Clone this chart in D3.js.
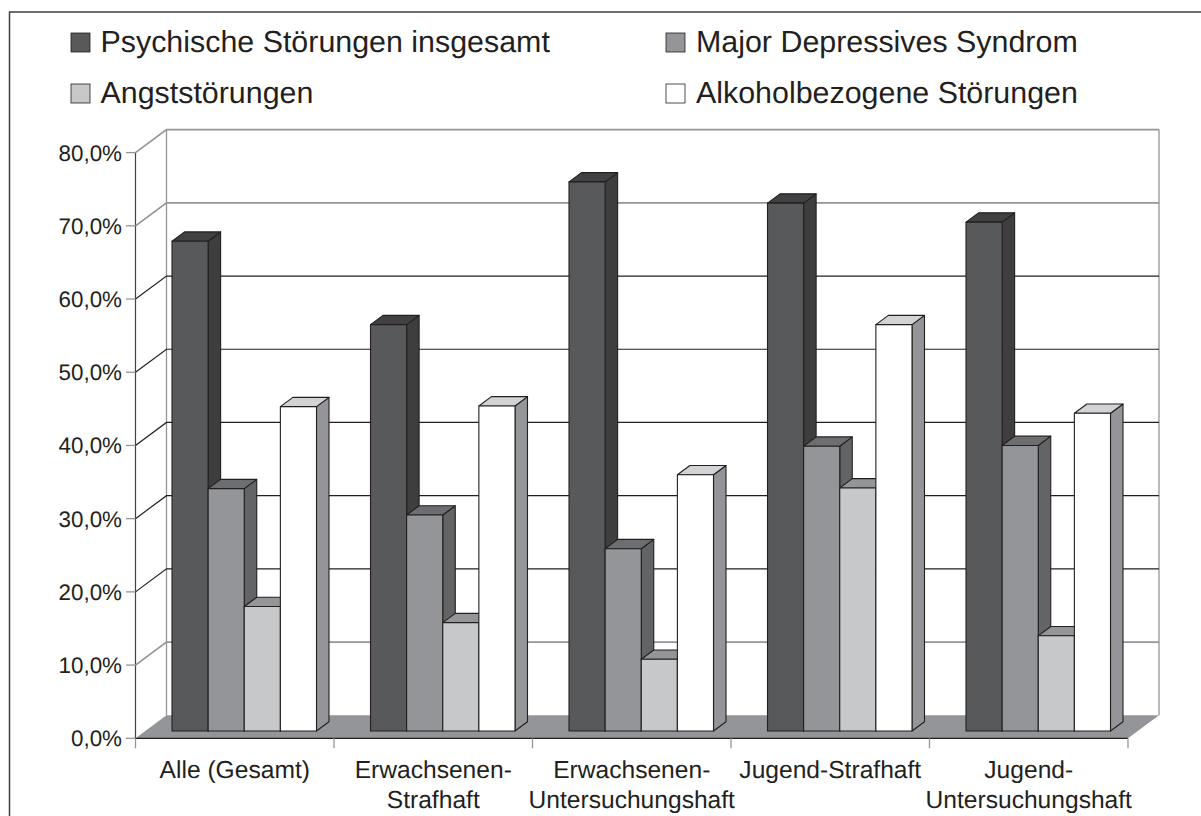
<!DOCTYPE html>
<html><head><meta charset="utf-8">
<script src="https://cdnjs.cloudflare.com/ajax/libs/d3/7.8.5/d3.min.js"></script>
<style>html,body{margin:0;padding:0;background:#fff}svg{display:block}text{font-family:"Liberation Sans",Arial,sans-serif;fill:#231f20;text-rendering:geometricPrecision}</style>
</head><body><svg id="c" width="1201" height="816"></svg>
<script>
const categories=[["Alle (Gesamt)"],["Erwachsenen-","Strafhaft"],["Erwachsenen-","Untersuchungshaft"],["Jugend-Strafhaft"],["Jugend-","Untersuchungshaft"]];
const seriesNames=["Psychische Störungen insgesamt","Major Depressives Syndrom","Angststörungen","Alkoholbezogene Störungen"];
const psychisch=[66.9,55.5,75.0,72.1,69.5];
const depressiv=[33.1,29.5,24.9,38.9,39.0];
const angst=[17.0,14.8,9.8,33.2,13.0];
const alkohol=[44.3,44.4,35.0,55.5,43.4];
const yTicks=[0,10,20,30,40,50,60,70,80];
const fronts=["#58595b","#939598","#c7c8ca","#ffffff"];
const sides=["#3e3e3f","#636466","#939598","#939598"];
const tops=["#414042","#6d6e71","#939598","#d1d3d4"];
const ink="#231f20",grey="#939598";
const series=[psychisch,depressiv,angst,alkohol];
const fmt=v=>v.toFixed(1).replace(".",",")+"%";

const svg=d3.select("#c");
const x0=135.5,x1=1128,y0=738.3,y80=152.6,dx=31,dy=-23;
const y=d3.scaleLinear().domain([0,80]).range([y0,y80]);
const xb=d3.scaleBand().domain(d3.range(5)).range([x0,x1]);
const xs=d3.scaleBand().domain(d3.range(4)).range([36.5,181]);
const zy=-7.3; // bar front sits inside the floor
const depthX=12.5,depthY=-9.3;

// frame
svg.append("path").attr("d","M9.5,816V12H1201").attr("fill","none").attr("stroke","#414042").attr("stroke-width",1.5);

// legend
const legX=[71,666],legY=[42.5,93.5];
seriesNames.forEach((n,i)=>{
  const lx=legX[i%2],ly=legY[i>>1];
  svg.append("rect").attr("x",lx).attr("y",ly-9.5).attr("width",19).attr("height",19).attr("fill",fronts[i]).attr("stroke",ink).attr("stroke-width",.8);
  svg.append("text").attr("x",lx+(i%2?30:29.5)).attr("y",ly+9.8).attr("font-size",30.4).text(n);
});

// floor
svg.append("path").attr("d",`M${x0},${y0}L${x0+dx},${y0+dy}H${x1+dx}L${x1},${y0}Z`).attr("fill",grey);
// walls
svg.append("path").attr("d",`M${x0},${y(0)}V${y(80)}`).attr("stroke","#414042").attr("fill","none").attr("stroke-width",1.2);
svg.append("path").attr("d",`M${x0+dx},${y(0)+dy}V${y(80)+dy}`).attr("stroke",grey).attr("fill","none").attr("stroke-width",1.3);
svg.append("path").attr("d",`M${x1+dx},${y(0)+dy}V${y(80)+dy}`).attr("stroke",grey).attr("fill","none").attr("stroke-width",1.3);
// grid
yTicks.slice(1).forEach(t=>{
  const soft=t===70||t===80||t===10;
  const d=`M${x0},${y(t)}L${x0+dx},${y(t)+dy}H${x1+dx}`;
  svg.append("path").attr("d",d).attr("fill","none").attr("stroke",soft?grey:ink).attr("stroke-width",soft?1.7:1.2);
});
// y axis ticks + labels
yTicks.forEach(t=>{
  svg.append("path").attr("d",`M${x0-9.5},${y(t)}H${x0}`).attr("stroke",grey).attr("stroke-width",1.3);
  svg.append("text").attr("x",122).attr("y",y(t)+8).attr("text-anchor","end").attr("font-size",22.4).text(fmt(t));
});
// x axis
svg.append("path").attr("d",`M${x0},${y0}H${x1}`).attr("stroke",ink).attr("stroke-width",1.2);
d3.range(6).forEach(i=>{
  const xt=x0+i*xb.step();
  svg.append("path").attr("d",`M${xt},${y0}V${y0+10}`).attr("stroke",grey).attr("stroke-width",1.3);
});
categories.forEach((c,i)=>{
  c.forEach((s,k)=>svg.append("text").attr("x",xb(i)+xb.bandwidth()/2).attr("y",778+k*30).attr("text-anchor","middle").attr("font-size",24.6).text(s));
});
// bars
const bw=xs.bandwidth();
categories.forEach((c,g)=>{
  series.forEach((vals,s)=>{
    const v=vals[g];
    const bx=xb(g)+xs(s),fy0=y(0)+zy,ft=fy0-(y(0)-y(v));
    const G=svg.append("g").attr("stroke",ink).attr("stroke-width",1.1).attr("stroke-linejoin","round");
    G.append("path").attr("d",`M${bx+bw},${fy0}L${bx+bw+depthX},${fy0+depthY}V${ft+depthY}L${bx+bw},${ft}Z`).attr("fill",sides[s]);
    G.append("path").attr("d",`M${bx},${ft}L${bx+depthX},${ft+depthY}H${bx+bw+depthX}L${bx+bw},${ft}Z`).attr("fill",tops[s]);
    G.append("rect").attr("x",bx).attr("y",ft).attr("width",bw).attr("height",fy0-ft).attr("fill",fronts[s]);
  });
});
</script></body></html>
